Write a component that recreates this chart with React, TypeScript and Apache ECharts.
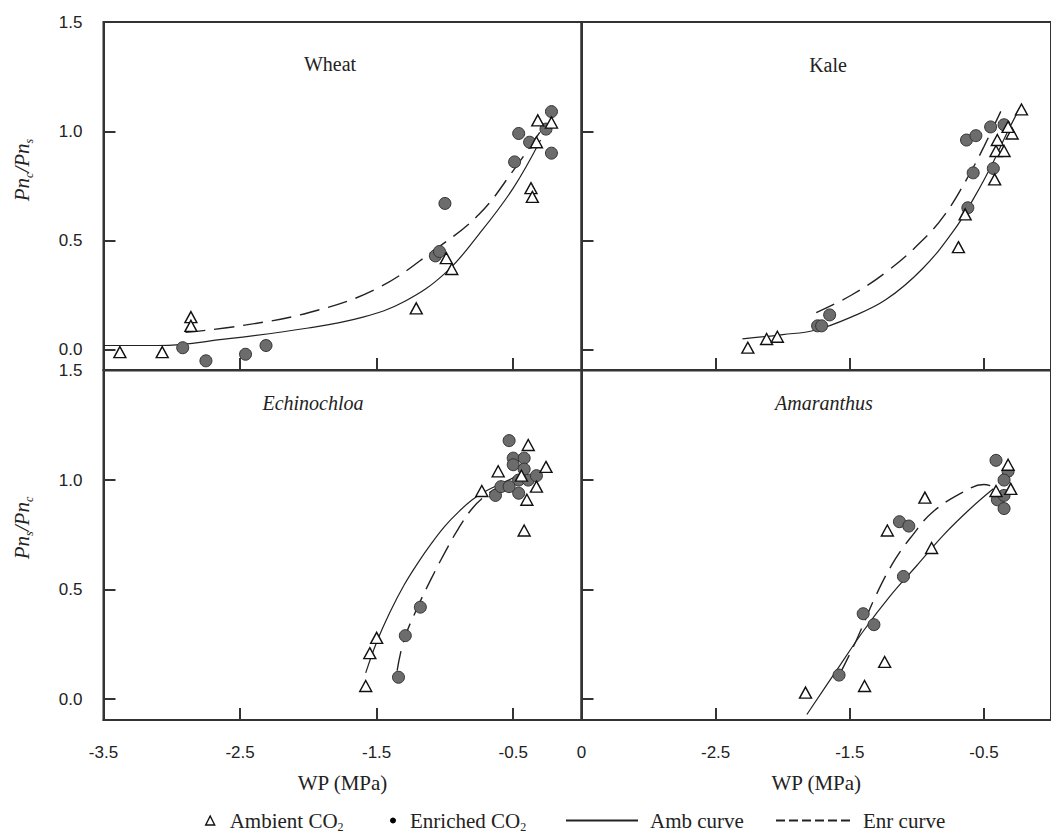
import React, { useEffect, useRef } from "react";
import * as echarts from "echarts";

// ---------- data ----------
const wheatAmbient = [
  [-3.38, -0.01], [-3.07, -0.01], [-2.86, 0.15], [-2.86, 0.11], [-1.21, 0.19],
  [-0.95, 0.37], [-0.99, 0.42], [-0.37, 0.74], [-0.36, 0.7], [-0.32, 1.05],
  [-0.22, 1.04], [-0.33, 0.95],
];
const wheatEnriched = [
  [-2.92, 0.01], [-2.75, -0.05], [-2.46, -0.02], [-2.31, 0.02], [-1.0, 0.67],
  [-1.07, 0.43], [-1.04, 0.45], [-0.49, 0.86], [-0.46, 0.99], [-0.38, 0.95],
  [-0.26, 1.01], [-0.22, 1.09], [-0.22, 0.9],
];
const wheatAmbCurve = [
  [-3.5, 0.02], [-3.1, 0.02], [-2.6, 0.05], [-2.0, 0.1], [-1.6, 0.15],
  [-1.3, 0.22], [-1.0, 0.35], [-0.75, 0.53], [-0.5, 0.74], [-0.3, 0.96],
];
const wheatEnrCurve = [
  [-2.9, 0.08], [-2.5, 0.11], [-2.0, 0.17], [-1.5, 0.28], [-1.07, 0.46],
  [-0.75, 0.62], [-0.5, 0.82], [-0.3, 1.0],
];

const kaleAmbient = [
  [-2.26, 0.01], [-2.12, 0.05], [-2.04, 0.06], [-0.69, 0.47], [-0.64, 0.62],
  [-0.42, 0.78], [-0.41, 0.91], [-0.35, 0.91], [-0.4, 0.96], [-0.29, 0.99],
  [-0.22, 1.1], [-0.32, 1.02],
];
const kaleEnriched = [
  [-1.74, 0.11], [-1.71, 0.11], [-1.65, 0.16], [-0.62, 0.65], [-0.58, 0.81],
  [-0.63, 0.96], [-0.56, 0.98], [-0.45, 1.02], [-0.43, 0.83], [-0.35, 1.03],
];
const kaleAmbCurve = [
  [-2.3, 0.05], [-2.0, 0.07], [-1.76, 0.09], [-1.49, 0.15], [-1.23, 0.23],
  [-0.96, 0.37], [-0.72, 0.55], [-0.57, 0.7], [-0.43, 0.86], [-0.33, 0.99],
  [-0.23, 1.11],
];
const kaleEnrCurve = [
  [-1.75, 0.17], [-1.49, 0.25], [-1.22, 0.36], [-0.96, 0.5], [-0.79, 0.62],
  [-0.62, 0.79], [-0.5, 0.93], [-0.36, 1.11],
];

const echinoAmbient = [
  [-1.58, 0.06], [-1.55, 0.21], [-1.5, 0.28], [-0.73, 0.95], [-0.61, 1.04],
  [-0.39, 1.16], [-0.26, 1.06], [-0.4, 0.91], [-0.42, 0.77], [-0.33, 0.97],
  [-0.44, 1.02],
];
const echinoEnriched = [
  [-1.34, 0.1], [-1.29, 0.29], [-1.18, 0.42], [-0.53, 1.18], [-0.5, 1.1],
  [-0.42, 1.1], [-0.5, 1.07], [-0.63, 0.93], [-0.59, 0.97], [-0.46, 1.0],
  [-0.39, 1.0], [-0.33, 1.02], [-0.46, 0.94], [-0.53, 0.97], [-0.42, 1.05],
];
const echinoAmbCurve = [
  [-1.58, 0.12], [-1.5, 0.26], [-1.4, 0.4], [-1.3, 0.52], [-1.2, 0.62],
  [-1.1, 0.71], [-1.0, 0.79], [-0.9, 0.855], [-0.8, 0.91], [-0.7, 0.95],
  [-0.6, 0.98], [-0.5, 1.01], [-0.4, 1.04],
];
const echinoEnrCurve = [
  [-1.35, 0.13], [-1.3, 0.27], [-1.2, 0.42], [-1.1, 0.55], [-1.0, 0.67],
  [-0.9, 0.78], [-0.8, 0.87], [-0.7, 0.93], [-0.6, 0.97], [-0.5, 1.0],
  [-0.4, 1.03],
];

const amarAmbient = [
  [-1.83, 0.03], [-1.39, 0.06], [-1.24, 0.17], [-1.22, 0.77], [-0.94, 0.92],
  [-0.89, 0.69], [-0.32, 1.07], [-0.3, 0.96], [-0.41, 0.95],
];
const amarEnriched = [
  [-1.58, 0.11], [-1.4, 0.39], [-1.32, 0.34], [-1.1, 0.56], [-1.13, 0.81],
  [-1.06, 0.79], [-0.41, 1.09], [-0.32, 1.04], [-0.35, 1.0], [-0.4, 0.91],
  [-0.35, 0.93], [-0.35, 0.87],
];
const amarAmbCurve = [
  [-1.82, -0.07], [-1.6, 0.13], [-1.4, 0.31], [-1.2, 0.47], [-1.0, 0.61],
  [-0.8, 0.75], [-0.6, 0.87], [-0.43, 0.96],
];
const amarEnrCurve = [
  [-1.57, 0.12], [-1.45, 0.27], [-1.3, 0.48], [-1.16, 0.64], [-1.03, 0.75],
  [-0.89, 0.85], [-0.67, 0.94], [-0.5, 0.98], [-0.43, 0.97],
];

const panelTitles = ["Wheat", "Kale", "Echinochloa", "Amaranthus"];
const yTickValues = [0, 0.5, 1.0];
const yLabelValues = [0, 0.5, 1.0, 1.5];
const xTickValues = [-2.5, -1.5, -0.5];
const xLabelsLeft = [-3.5, -2.5, -1.5, -0.5, 0];
const xLabelsRight = [-2.5, -1.5, -0.5];

const panels = [
  { amb: wheatAmbient, enr: wheatEnriched, ambC: wheatAmbCurve, enrC: wheatEnrCurve },
  { amb: kaleAmbient, enr: kaleEnriched, ambC: kaleAmbCurve, enrC: kaleEnrCurve },
  { amb: echinoAmbient, enr: echinoEnriched, ambC: echinoAmbCurve, enrC: echinoEnrCurve },
  { amb: amarAmbient, enr: amarEnriched, ambC: amarAmbCurve, enrC: amarEnrCurve },
];

// ---------- styling ----------
const INK = "#222";
const AXIS = "#333";
const SERIF = '"Liberation Serif", "Times New Roman", serif';
const SANS = '"Liberation Sans", Arial, sans-serif';

const gridBoxes = [
  { left: 103.5, top: 22, width: 478, height: 348 },
  { left: 581.5, top: 22, width: 479, height: 348 },
  { left: 103.5, top: 370.5, width: 478, height: 349.5 },
  { left: 581.5, top: 370.5, width: 479, height: 349.5 },
];

const titlePos = [
  { x: 330, y: 64, italic: false },
  { x: 828, y: 65, italic: false },
  { x: 313, y: 403, italic: true },
  { x: 824, y: 403, italic: true },
];

function buildOption(): any {
  const grid = gridBoxes.map((g) => ({
    ...g,
    show: true,
    borderColor: AXIS,
    borderWidth: 2,
    backgroundColor: "transparent",
    containLabel: false,
  }));

  const xAxis = gridBoxes.map((_, i) => ({
    type: "value",
    gridIndex: i,
    min: -3.5,
    max: 0,
    axisLine: { show: true, onZero: false, lineStyle: { color: AXIS, width: 2 } },
    axisTick: {
      show: true,
      inside: true,
      length: 12,
      customValues: xTickValues,
      lineStyle: { color: AXIS, width: 2 },
    },
    axisLabel: {
      show: i >= 2,
      customValues: i === 2 ? xLabelsLeft : xLabelsRight,
      formatter: (v: number) => (v === 0 ? "0" : v.toFixed(1)),
      margin: 24,
      fontSize: 17,
      fontFamily: SANS,
      color: INK,
    },
    splitLine: { show: false },
    name: i >= 2 ? "WP (MPa)" : "",
    nameLocation: "middle",
    nameGap: 52,
    nameTextStyle: { fontFamily: SERIF, fontSize: 21, color: INK },
  }));

  const yAxis = gridBoxes.map((_, i) => ({
    type: "value",
    gridIndex: i,
    min: i < 2 ? -0.092 : -0.095,
    max: 1.5,
    axisLine: { show: true, onZero: false, lineStyle: { color: AXIS, width: 2 } },
    axisTick: {
      show: true,
      inside: true,
      length: 12,
      customValues: yTickValues,
      lineStyle: { color: AXIS, width: 2 },
    },
    axisLabel: {
      show: i % 2 === 0,
      customValues: yLabelValues,
      formatter: (v: number) => v.toFixed(1),
      margin: 21,
      fontSize: 17,
      fontFamily: SANS,
      color: INK,
    },
    splitLine: { show: false },
  }));

  const series: any[] = [];
  panels.forEach((p, i) => {
    series.push({
      type: "line",
      name: "Amb curve",
      xAxisIndex: i,
      yAxisIndex: i,
      data: p.ambC,
      smooth: 0.4,
      symbol: "none",
      itemStyle: { color: INK },
      lineStyle: { color: INK, width: 1.2, type: "solid" },
      z: 2,
    });
    series.push({
      type: "line",
      name: "Enr curve",
      xAxisIndex: i,
      yAxisIndex: i,
      data: p.enrC,
      smooth: 0.4,
      symbol: "none",
      itemStyle: { color: INK },
      lineStyle: { color: INK, width: 1.4, type: [20, 9] },
      z: 2,
    });
    series.push({
      type: "scatter",
      name: "Enriched CO2",
      xAxisIndex: i,
      yAxisIndex: i,
      data: p.enr,
      symbol: "circle",
      symbolSize: 12,
      itemStyle: { color: "#6c6c6c", borderColor: "#333", borderWidth: 1, opacity: 1 },
      z: 3,
    });
    series.push({
      type: "scatter",
      name: "Ambient CO2",
      xAxisIndex: i,
      yAxisIndex: i,
      data: p.amb,
      symbol: "triangle",
      symbolSize: [12, 11],
      itemStyle: { color: "#ffffff", borderColor: "#111", borderWidth: 1.4, opacity: 1 },
      z: 4,
    });
  });

  const legendRich = {
    sp10: { width: 10 },
    sp9: { width: 9 },
    sp7: { width: 7 },
    sp5: { width: 5 },
    t: { fontFamily: SERIF, fontSize: 21, color: INK, lineHeight: 24 },
    s: { fontFamily: SERIF, fontSize: 12, color: INK, lineHeight: 6, verticalAlign: "bottom" },
  };
  const legendFormatter = (name: string) => {
    if (name === "Ambient CO2") return "{sp10|}{t|Ambient CO}{s|2}";
    if (name === "Enriched CO2") return "{sp9|}{t|Enriched CO}{s|2}";
    if (name === "Amb curve") return "{sp7|}{t|Amb curve}";
    return "{sp5|}{t|Enr curve}";
  };
  const legendBase = {
    top: 810,
    orient: "horizontal",
    selectedMode: false,
    padding: 0,
    formatter: legendFormatter,
    textStyle: { rich: legendRich, color: INK },
  };
  const legend = [
    {
      ...legendBase,
      left: 205,
      itemWidth: 9,
      itemHeight: 9,
      data: [
        {
          name: "Ambient CO2",
          icon: "triangle",
          itemStyle: { color: "#fff", borderColor: "#111", borderWidth: 1.4 },
        },
      ],
    },
    {
      ...legendBase,
      left: 390,
      itemWidth: 6,
      itemHeight: 10,
      data: [{ name: "Enriched CO2", icon: "circle", itemStyle: { color: "#000", borderWidth: 0 } }],
    },
    {
      ...legendBase,
      left: 565,
      itemWidth: 72,
      itemHeight: 10,
      lineStyle: { color: INK, width: 2, type: "solid" },
      itemStyle: { opacity: 0 },
      data: [{ name: "Amb curve", itemStyle: { opacity: 0 } }],
    },
    {
      ...legendBase,
      left: 775,
      itemWidth: 77,
      itemHeight: 10,
      lineStyle: { color: INK, width: 2, type: [9, 4] },
      itemStyle: { opacity: 0 },
      data: [{ name: "Enr curve", itemStyle: { opacity: 0 } }],
    },
  ];

  const yNameRich = {
    i: { fontFamily: SERIF, fontStyle: "italic", fontSize: 21, fill: INK, lineHeight: 26 },
    s: {
      fontFamily: SERIF,
      fontStyle: "italic",
      fontSize: 12,
      fill: INK,
      lineHeight: 6,
      verticalAlign: "bottom",
    },
  };

  const graphic: any[] = [
    ...panelTitles.map((t, i) => ({
      type: "text",
      x: titlePos[i].x,
      y: titlePos[i].y,
      z: 10,
      style: {
        text: t,
        font: `${titlePos[i].italic ? "italic " : ""}20px ${SERIF}`,
        fill: INK,
        align: "center",
        verticalAlign: "middle",
      },
    })),
    {
      type: "text",
      x: 22,
      y: 170,
      rotation: Math.PI / 2,
      z: 10,
      style: {
        text: "{i|Pn}{s|c}{i|/Pn}{s|s}",
        rich: yNameRich,
        align: "center",
        verticalAlign: "middle",
      },
    },
    {
      type: "text",
      x: 22,
      y: 528,
      rotation: Math.PI / 2,
      z: 10,
      style: {
        text: "{i|Pn}{s|s}{i|/Pn}{s|c}",
        rich: yNameRich,
        align: "center",
        verticalAlign: "middle",
      },
    },
  ];

  return {
    animation: false,
    backgroundColor: "#ffffff",
    grid,
    xAxis,
    yAxis,
    series,
    legend,
    graphic,
  };
}

export default function App() {
  const ref = useRef<HTMLDivElement>(null);
  useEffect(() => {
    document.body.style.margin = "0";
    if (!ref.current) return;
    const chart = echarts.init(ref.current, undefined, { renderer: "svg" });
    chart.setOption(buildOption());
    return () => chart.dispose();
  }, []);
  return <div ref={ref} style={{ width: 1051, height: 835 }} />;
}
